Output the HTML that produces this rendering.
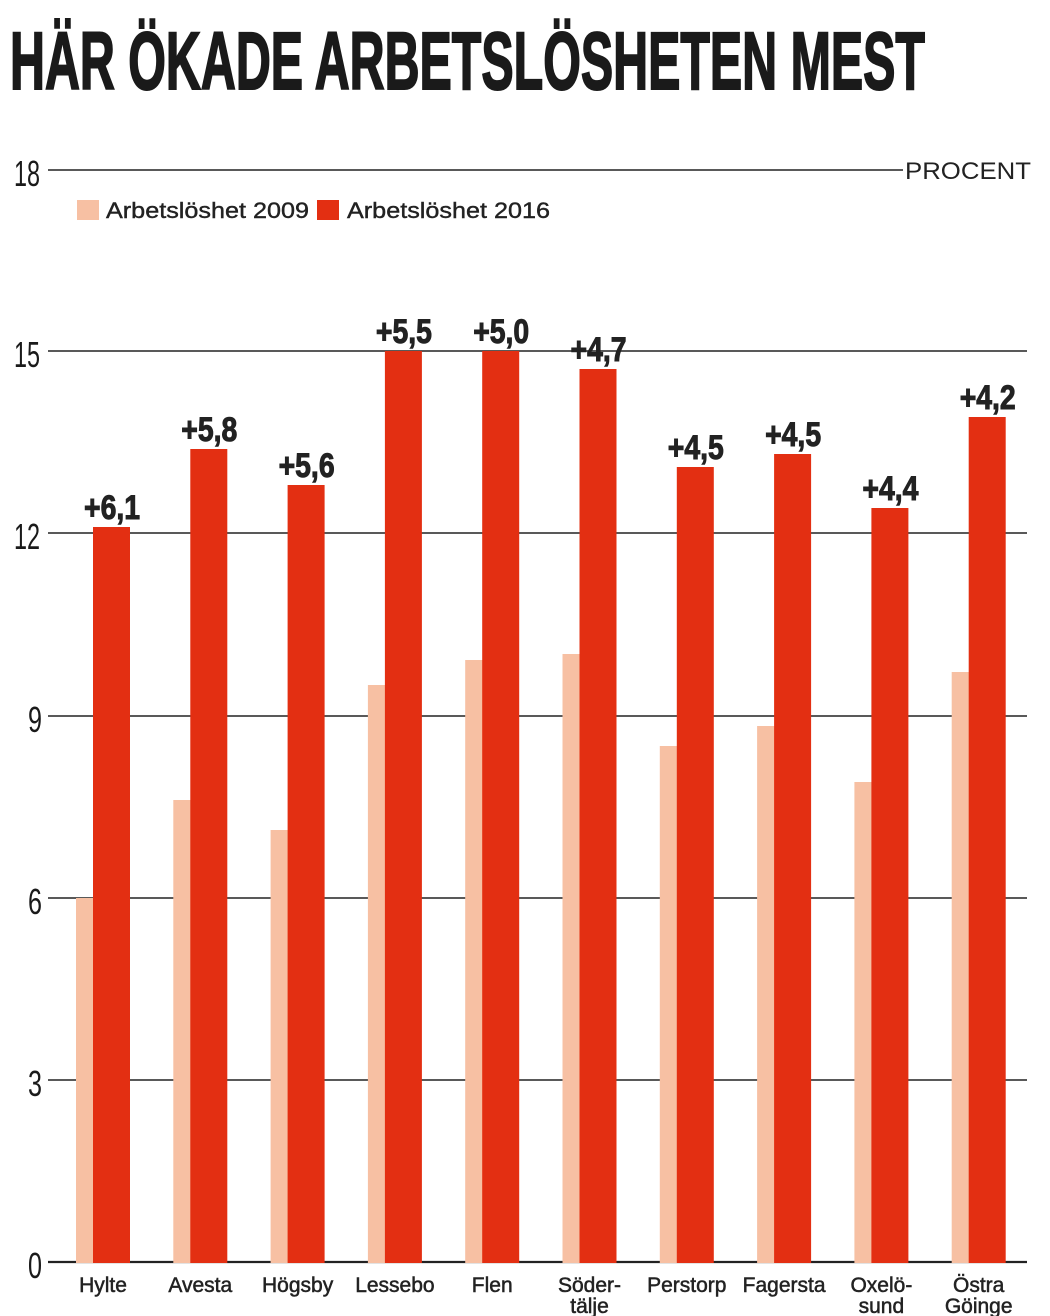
<!DOCTYPE html>
<html><head><meta charset="utf-8"><style>
body{margin:0;background:#fff}
svg{display:block}
</style></head><body>
<svg width="1050" height="1316" viewBox="0 0 1050 1316" xmlns="http://www.w3.org/2000/svg" font-family="Liberation Sans, DejaVu Sans, sans-serif">
<text x="10" y="89" font-size="82" font-weight="bold" fill="#1a1a1a" stroke="#1a1a1a" stroke-width="2" textLength="915" lengthAdjust="spacingAndGlyphs">HÄR ÖKADE ARBETSLÖSHETEN MEST</text>
<g stroke="#222" stroke-width="1.6">
<line x1="48" y1="170" x2="903" y2="170"/>
<line x1="48" y1="351" x2="1027" y2="351"/>
<line x1="48" y1="533" x2="1027" y2="533"/>
<line x1="48" y1="716" x2="1027" y2="716"/>
<line x1="48" y1="898" x2="1027" y2="898"/>
<line x1="48" y1="1080" x2="1027" y2="1080"/>
<line x1="48" y1="1262" x2="1027" y2="1262" stroke-width="2.2"/>
</g>
<g font-size="36" fill="#1a1a1a">
<text x="14" y="186" textLength="26" lengthAdjust="spacingAndGlyphs">18</text>
<text x="14" y="367" textLength="26" lengthAdjust="spacingAndGlyphs">15</text>
<text x="14" y="549" textLength="26" lengthAdjust="spacingAndGlyphs">12</text>
<text x="28" y="732" textLength="14" lengthAdjust="spacingAndGlyphs">9</text>
<text x="28" y="914" textLength="14" lengthAdjust="spacingAndGlyphs">6</text>
<text x="28" y="1096" textLength="14" lengthAdjust="spacingAndGlyphs">3</text>
<text x="28" y="1278" textLength="14" lengthAdjust="spacingAndGlyphs">0</text>
</g>
<text x="905" y="179" font-size="24" fill="#222" textLength="126" lengthAdjust="spacingAndGlyphs">PROCENT</text>
<rect x="77" y="200" width="22" height="20" fill="#f7c0a3"/>
<text x="106" y="218" font-size="22" fill="#222" stroke="#222" stroke-width="0.4" textLength="203" lengthAdjust="spacingAndGlyphs">Arbetslöshet 2009</text>
<rect x="317" y="200" width="22" height="20" fill="#e32f12"/>
<text x="347" y="218" font-size="22" fill="#222" stroke="#222" stroke-width="0.4" textLength="203" lengthAdjust="spacingAndGlyphs">Arbetslöshet 2016</text>
<g id="bars"></g>
<g font-size="21" fill="#222" text-anchor="middle" font-weight="bold" id="labs"></g>
<script>
var d=[["Hylte",898,527,"+6,1"],["Avesta",800,449,"+5,8"],["Högsby",830,485,"+5,6"],["Lessebo",685,351,"+5,5"],["Flen",660,351,"+5,0"],["Söder-|tälje",654,369,"+4,7"],["Perstorp",746,467,"+4,5"],["Fagersta",726,454,"+4,5"],["Oxelö-|sund",782,508,"+4,4"],["Östra|Göinge",672,417,"+4,2"]];
var ns="http://www.w3.org/2000/svg",b=document.getElementById("bars"),l=document.getElementById("labs");
function el(p,t,a,tx){var e=document.createElementNS(ns,t);for(var k in a)e.setAttribute(k,a[k]);if(tx)e.textContent=tx;p.appendChild(e);return e;}
d.forEach(function(r,i){var x=76+i*97.3;
el(b,"rect",{x:x,y:r[1],width:18,height:1263-r[1],fill:"#f7c0a3"});
el(b,"rect",{x:x+17,y:r[2],width:37,height:1263-r[2],fill:"#e32f12"});
var cx=x+27,nm=r[0].split("|");
nm.forEach(function(s,j){el(l,"text",{x:cx,y:1292+j*21,"font-weight":"normal",stroke:"#222","stroke-width":"0.5"},s);});
el(l,"text",{x:x+36,y:r[2]-8,"font-size":"34","textLength":"56","lengthAdjust":"spacingAndGlyphs",stroke:"#222","stroke-width":"1"},r[3]);
});
</script>
</svg>
</body></html>
